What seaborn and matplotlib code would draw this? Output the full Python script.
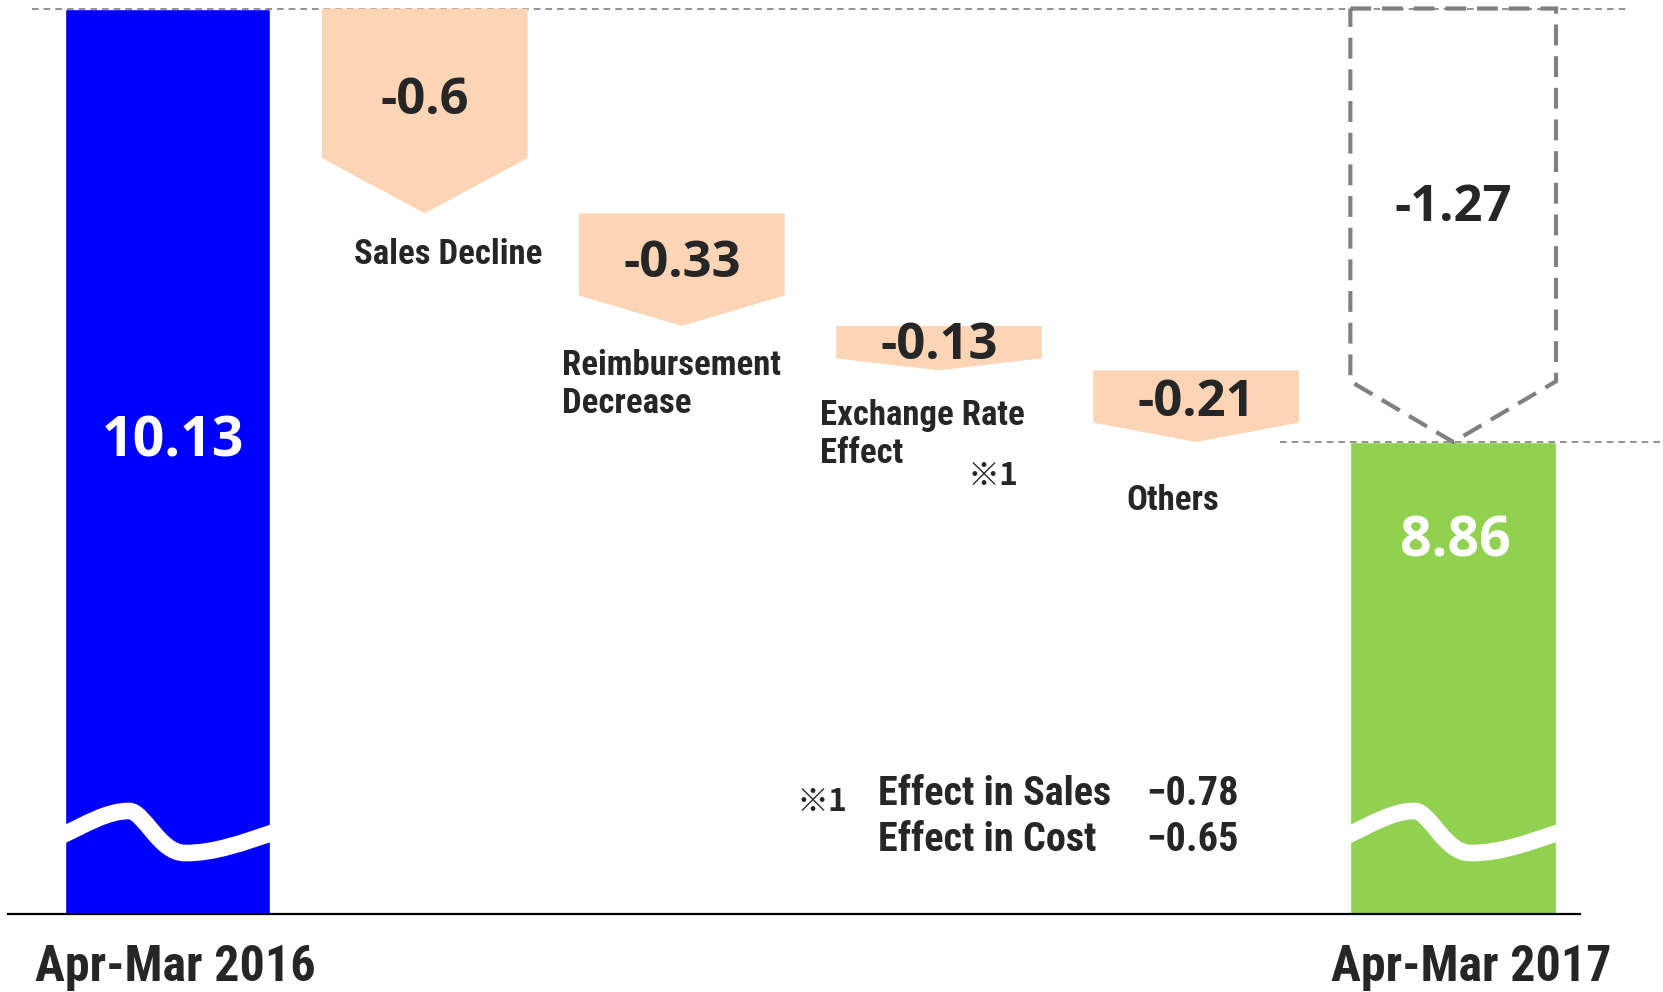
import numpy as np
import pandas as pd
import matplotlib.pyplot as plt
import seaborn as sns
from matplotlib import font_manager
from matplotlib.patches import Polygon, PathPatch
from matplotlib.path import Path
from matplotlib.transforms import blended_transform_factory

sns.set_theme(style="white")

installed = {f.name for f in font_manager.fontManager.ttflist}
label_face = next((n for n in ['Liberation Sans Narrow', 'Roboto Condensed', 'Noto Sans CJK JP']
                   if n in installed), 'DejaVu Sans')
LABEL_FONT = [label_face, 'Noto Sans CJK JP', 'DejaVu Sans']
NUM_FONT = ['Open Sans', 'DejaVu Sans']
MARK_FONT = ['Noto Sans CJK JP', 'DejaVu Sans']
plt.rcParams['font.family'] = LABEL_FONT

# chart values
categories = ['Apr-Mar 2016', 'Sales Decline', 'Reimbursement\nDecrease',
              'Exchange Rate\nEffect', 'Others', 'Apr-Mar 2017']
start_value = 10.13
end_value = 8.86
deltas = [-0.6, -0.33, -0.13, -0.21]
total_change = -1.27
footnote_mark = '※1'
footnote_items = ['Effect in Sales', 'Effect in Cost']
footnote_values = [-0.78, -0.65]

# colours
BLUE = '#0000FF'
GREEN = '#92D050'
PEACH = '#FBD5B5'
GREY = '#808080'
TEXT = '#262626'

fig = plt.figure(figsize=(16.63, 9.92), dpi=100)
ax = fig.add_axes([0, 78 / 992, 1, 914 / 992])

totals = pd.DataFrame({'period': [categories[0], categories[-1]],
                       'value': [start_value, end_value]})
sns.barplot(data=totals, x='period', y='value', order=categories, hue='period',
            palette={categories[0]: BLUE, categories[-1]: GREEN},
            width=0.8, saturation=1, legend=False, ax=ax)

ax.set_xlim(-0.652, 5.816)
ax.set_ylim(7.477, 10.155)
for s in ['top', 'left', 'right']:
    ax.spines[s].set_visible(False)
ax.spines['bottom'].set_color('black')
ax.spines['bottom'].set_linewidth(1.6)
ax.spines['bottom'].set_bounds(-0.62, 5.495)
ax.set_xticks([])
ax.set_yticks([])
ax.set_xlabel('')
ax.set_ylabel('')

blend = blended_transform_factory(ax.transData, ax.transAxes)

# break marks on the total bars
bars = [p for p in ax.patches if np.isfinite(p.get_height()) and p.get_height() > 0]
wave_u = [0.0, 0.12, 0.22, 0.32, 0.39, 0.46, 0.58, 0.72, 0.85, 1.0]
wave_v = [0.0853, 0.0985, 0.1130, 0.1127, 0.1125, 0.067, 0.0667, 0.0665, 0.078, 0.0897]
codes = [Path.MOVETO] + [Path.CURVE4] * 9
for bar in bars:
    x0, w = bar.get_x(), bar.get_width()
    verts = [(x0 - 0.02 * w + u * 1.04 * w, v) for u, v in zip(wave_u, wave_v)]
    wave = PathPatch(Path(verts, codes), facecolor='none', edgecolor='white',
                     lw=12, transform=blend, capstyle='butt', zorder=3)
    ax.add_patch(wave)
    wave.set_clip_path(bar)

# value labels in the total bars
ax.text(0.02, 0.516, f'{start_value:.2f}', transform=blend, ha='center', va='center',
        color='white', fontsize=40, fontweight='bold', family=NUM_FONT, zorder=4)
ax.text(5.01, 0.407, f'{end_value:.2f}', transform=blend, ha='center', va='center',
        color='white', fontsize=40, fontweight='bold', family=NUM_FONT, zorder=4)

# reference lines at the two totals
ax.plot([-0.528, 5.68], [start_value, start_value], color=GREY, lw=1.2,
        ls=(0, (4, 3)), zorder=1)
ax.plot([4.327, 5.816], [end_value, end_value], color=GREY, lw=1.2,
        ls=(0, (4, 3)), zorder=1)

# decrease arrows
w = 0.8
levels = start_value + np.concatenate([[0], np.cumsum(deltas)])
label_offsets = [(17, -30, 'center'), (-86, -42, 'left'),
                 (-86, -46, 'left'), (-17, -42, 'center')]
for i, d in enumerate(deltas):
    x = i + 1
    top, bottom = levels[i], levels[i + 1]
    h = top - bottom
    shoulder = bottom + 0.27 * h
    arrow = Polygon([(x - w / 2, top), (x + w / 2, top), (x + w / 2, shoulder),
                     (x, bottom), (x - w / 2, shoulder)], closed=True,
                    facecolor=PEACH, edgecolor='none', zorder=2)
    ax.add_patch(arrow)
    ax.text(x, top - 0.45 * h, f'{d:g}', ha='center', va='center', color=TEXT,
            fontsize=36.5, fontweight='bold', family=NUM_FONT, zorder=4)
    dx, dy, ha = label_offsets[i]
    ax.annotate(categories[i + 1], xy=(x, bottom), xytext=(dx, dy),
                textcoords='offset points', ha=ha, va='center', color=TEXT,
                fontsize=25, fontweight='bold', linespacing=1.2)

# footnote marker under the exchange rate label
ax.annotate(footnote_mark, xy=(3, levels[3]), xytext=(39, -76), textcoords='offset points',
            ha='center', va='center', color=TEXT, fontsize=23, fontweight='bold',
            family=MARK_FONT)

# dashed total-change arrow
h = start_value - end_value
shoulder = end_value + 0.14 * h
outline = Polygon([(5 - w / 2, start_value), (5 + w / 2, start_value),
                   (5 + w / 2, shoulder), (5, end_value), (5 - w / 2, shoulder)],
                  closed=True, facecolor='none', edgecolor=GREY, lw=3,
                  ls=(0, (5, 2.6)), zorder=2)
ax.add_patch(outline)
ax.text(5, start_value - 0.46 * h, f'{total_change:.2f}', ha='center', va='center',
        color=TEXT, fontsize=36.5, fontweight='bold', family=NUM_FONT, zorder=4)

# period labels under the axis
for x, shift, lab in [(0, 0.03, categories[0]), (5, 0.07, categories[-1])]:
    ax.text(x + shift, -0.058, lab, transform=blend, ha='center', va='center',
            color=TEXT, fontsize=36, fontweight='bold')

# footnote
ax.text(0.494, 0.122, footnote_mark, transform=ax.transAxes, ha='center', va='center',
        color=TEXT, fontsize=23, fontweight='bold', family=MARK_FONT)
for yy, item, val in zip([0.131, 0.081], footnote_items, footnote_values):
    ax.text(0.528, yy, item, transform=ax.transAxes, ha='left', va='center',
            color=TEXT, fontsize=29, fontweight='bold')
    ax.text(0.745, yy, f'{val:.2f}'.replace('-', '\u2212'), transform=ax.transAxes,
            ha='right', va='center', color=TEXT, fontsize=29, fontweight='bold')

fig.savefig('out.png', dpi=100)
